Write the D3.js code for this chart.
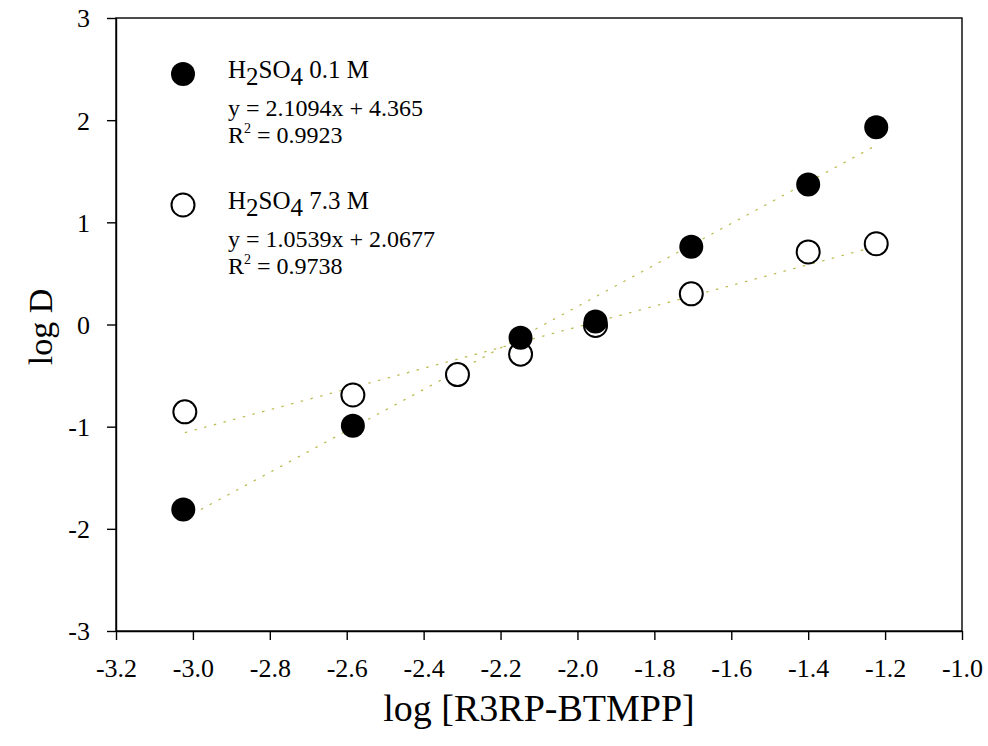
<!DOCTYPE html>
<html lang="en">
<head>
<meta charset="UTF-8">
<title>log D vs log [R3RP-BTMPP]</title>
<script src="https://d3js.org/d3.v7.min.js"></script>
<style>
  body { margin: 0; background: #fff; }
  text { font-family: "Liberation Serif", "Times New Roman", serif; fill: #000; }
</style>
</head>
<body>
<svg id="chart" width="988" height="746"></svg>
<script>
// Data
const xLow = [-3.025, -2.584, -2.148, -1.953, -1.704, -1.400, -1.223];
const yLow = [-1.81, -0.99, -0.13, 0.03, 0.76, 1.37, 1.93];      // H2SO4 0.1 M
const xHigh = [-3.021, -2.584, -2.312, -2.148, -1.953, -1.704, -1.400, -1.223];
const yHigh = [-0.855, -0.69, -0.49, -0.29, -0.01, 0.30, 0.71, 0.79]; // H2SO4 7.3 M
const xTicks = [-3.2, -3.0, -2.8, -2.6, -2.4, -2.2, -2.0, -1.8, -1.6, -1.4, -1.2, -1.0];
const yTicks = [-3, -2, -1, 0, 1, 2, 3];

const margin = { top: 18, right: 26, bottom: 115, left: 116 };
const width = 988 - margin.left - margin.right;
const height = 746 - margin.top - margin.bottom;

const svg = d3.select("#chart")
  .append("g")
  .attr("transform", `translate(${margin.left},${margin.top})`);

const x = d3.scaleLinear().domain([-3.2, -1.0]).range([0, width]);
const y = d3.scaleLinear().domain([-3, 3]).range([height, 0]);

// frame (top and right)
svg.append("rect")
  .attr("width", width).attr("height", height)
  .attr("fill", "none").attr("stroke", "#000").attr("stroke-width", 1.4);

// axes
const xAxis = svg.append("g")
  .attr("transform", `translate(0,${height})`)
  .call(d3.axisBottom(x).tickValues(xTicks).tickSize(9).tickSizeOuter(0));
const yAxis = svg.append("g")
  .call(d3.axisLeft(y).tickValues(yTicks).tickSize(9).tickSizeOuter(0));

[xAxis, yAxis].forEach(a => {
  a.attr("font-family", null).attr("font-size", null);
  a.select(".domain").attr("stroke-width", 1.4);
  a.selectAll(".tick line").attr("stroke-width", 1.4);
  a.selectAll(".tick text").attr("font-size", "26px");
});
// hyphen minus like the original
xAxis.selectAll(".tick text").attr("dy", null).attr("y", 46)
  .text(d => d.toFixed(1));
yAxis.selectAll(".tick text").attr("x", -26).attr("dy", "0.34em")
  .text(d => String(d));

// axis titles
svg.append("text")
  .attr("x", 539 - margin.left).attr("y", height + 90)
  .attr("text-anchor", "middle").attr("font-size", "38px")
  .text("log [R3RP-BTMPP]");
svg.append("text")
  .attr("transform", "rotate(-90)")
  .attr("x", -(327 - margin.top)).attr("y", 52 - margin.left)
  .attr("text-anchor", "middle").attr("font-size", "34px")
  .text("log D");

// least squares trend lines
function fit(xs, ys) {
  const mx = d3.mean(xs), my = d3.mean(ys);
  const b = d3.sum(xs, (v, i) => (v - mx) * (ys[i] - my)) / d3.sum(xs, v => (v - mx) * (v - mx));
  return { slope: b, icpt: my - b * mx };
}
function trend(xs, ys) {
  const f = fit(xs, ys);
  const x0 = d3.min(xs), x1 = d3.max(xs);
  svg.append("line")
    .attr("x1", x(x0)).attr("y1", y(f.slope * x0 + f.icpt))
    .attr("x2", x(x1)).attr("y2", y(f.slope * x1 + f.icpt))
    .attr("stroke", "#b9b94a").attr("stroke-width", 1.2)
    .attr("stroke-dasharray", "2.5,7.5");
}
trend(xLow, yLow);
trend(xHigh, yHigh);

// markers
const low = xLow.map((v, i) => ({ x: v, y: yLow[i] }));
const high = xHigh.map((v, i) => ({ x: v, y: yHigh[i] }));

svg.selectAll(".high").data(high).enter().append("circle")
  .attr("class", "high")
  .attr("cx", d => x(d.x)).attr("cy", d => y(d.y)).attr("r", 11.5)
  .attr("fill", "#fff").attr("stroke", "#000").attr("stroke-width", 2);
svg.selectAll(".low").data(low).enter().append("circle")
  .attr("class", "low")
  .attr("cx", d => x(d.x)).attr("cy", d => y(d.y)).attr("r", 12)
  .attr("fill", "#000");

// legend
const legend = svg.append("g").attr("transform", `translate(${-margin.left},${-margin.top})`);
function legendBlock(cy, filled, conc, eq, r2) {
  legend.append("circle")
    .attr("cx", 183).attr("cy", cy).attr("r", filled ? 12 : 11.5)
    .attr("fill", filled ? "#000" : "#fff")
    .attr("stroke", "#000").attr("stroke-width", filled ? 0 : 2);
  const t1 = legend.append("text").attr("x", 228).attr("y", cy + 4).attr("font-size", "25px");
  t1.append("tspan").text("H");
  t1.append("tspan").attr("dy", 7).text("2");
  t1.append("tspan").attr("dy", -7).text("SO");
  t1.append("tspan").attr("dy", 7).text("4");
  t1.append("tspan").attr("dy", -7).text(" " + conc);
  legend.append("text").attr("x", 228).attr("y", cy + 42).attr("font-size", "24px").text(eq);
  const t3 = legend.append("text").attr("x", 228).attr("y", cy + 69).attr("font-size", "24px");
  t3.append("tspan").text("R");
  t3.append("tspan").attr("dy", -10).attr("font-size", "14px").text("2");
  t3.append("tspan").attr("dy", 10).text(" = " + r2);
}
legendBlock(74, true, "0.1 M", "y = 2.1094x + 4.365", "0.9923");
legendBlock(205, false, "7.3 M", "y = 1.0539x + 2.0677", "0.9738");
</script>
</body>
</html>
